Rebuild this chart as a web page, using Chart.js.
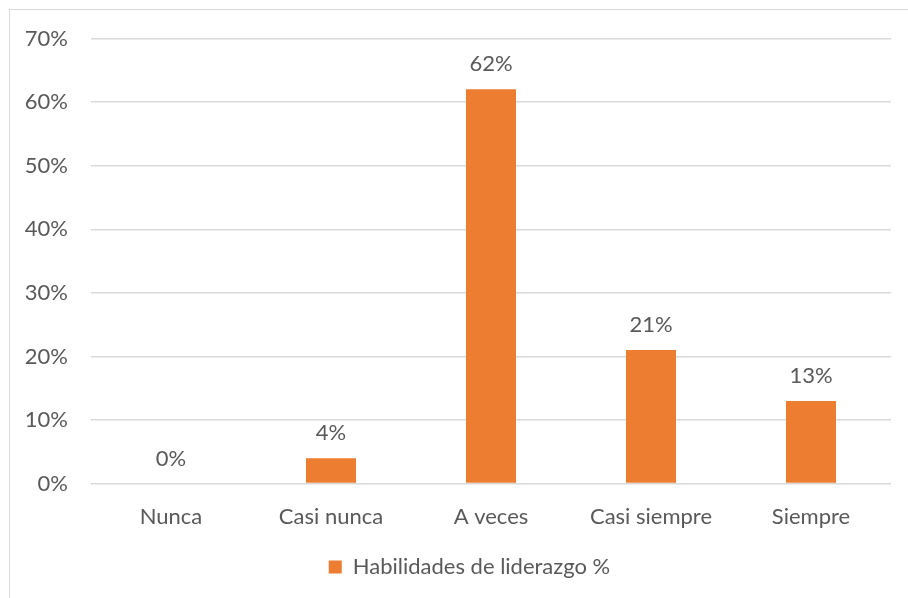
<!DOCTYPE html>
<html>
<head>
<meta charset="utf-8">
<script src="https://cdn.jsdelivr.net/npm/chart.js@4"></script>
<style>
  html, body { margin: 0; padding: 0; background: #fff; overflow: hidden; }
  #marco {
    position: absolute; left: 9px; top: 9px;
    width: 922px; height: 600px;
    border-left: 1.5px solid #d9d9d9; border-top: 1.5px solid #d9d9d9;
  }
  #grafico { display: block; }
</style>
</head>
<body>
<div id="marco"><canvas id="grafico" width="922" height="589"></canvas></div>
<script>
// categorías y porcentajes de la encuesta
const categorias = ['Nunca', 'Casi nunca', 'A veces', 'Casi siempre', 'Siempre'];
const porcentajes = [0, 4, 62, 21, 13];
const serie = 'Habilidades de liderazgo %';
const ticksY = [0, 10, 20, 30, 40, 50, 60, 70];

const fuente = "Lato, 'Open Sans', sans-serif";
const gris = '#595959';
const tam = 22;

// etiquetas de valor encima de cada barra
const etiquetasValor = {
    id: 'etiquetasValor',
    afterDatasetsDraw(chart) {
        const ctx = chart.ctx;
        const meta = chart.getDatasetMeta(0);
        ctx.save();
        ctx.font = tam + 'px ' + fuente;
        ctx.fillStyle = gris;
        ctx.textAlign = 'center';
        ctx.textBaseline = 'middle';
        meta.data.forEach((barra, i) => {
            const p = barra.getProps(['x', 'y'], true);
            ctx.fillText(porcentajes[i] + '%', p.x, p.y - 25);
        });
        ctx.restore();
    }
};

// la leyenda va centrada en todo el marco, no sólo en el área con relleno
const moverLeyenda = {
    id: 'moverLeyenda',
    afterLayout(chart) {
        const dx = 19;
        chart.legend.left += dx;
        chart.legend.right += dx;
    }
};

const ctx = document.getElementById('grafico').getContext('2d');
new Chart(ctx, {
    type: 'bar',
    data: {
        labels: categorias,
        datasets: [{
            label: serie,
            data: porcentajes,
            backgroundColor: '#ED7D31',
            categoryPercentage: 1,
            barPercentage: 0.3125
        }]
    },
    options: {
        responsive: false,
        animation: false,
        layout: { padding: { left: 0, right: 41, top: 28.5, bottom: 11 } },
        plugins: {
            legend: {
                position: 'bottom',
                labels: {
                    color: gris,
                    font: { family: fuente, size: tam },
                    boxWidth: 13,
                    boxHeight: 13,
                    padding: 6
                }
            },
            tooltip: { enabled: false }
        },
        scales: {
            x: {
                grid: { display: false, drawTicks: false },
                border: { display: false },
                ticks: { color: gris, font: { family: fuente, size: tam }, padding: 20 }
            },
            y: {
                min: 0,
                max: 70,
                afterFit(scale) { scale.width = 81; },
                afterBuildTicks(scale) { scale.ticks = ticksY.map(v => ({ value: v })); },
                // marcas invisibles para separar las etiquetas de la rejilla
                grid: { color: '#d9d9d9', lineWidth: 1.5, drawTicks: true, tickLength: 23, tickColor: 'rgba(0,0,0,0)' },
                border: { display: false },
                ticks: {
                    color: gris,
                    font: { family: fuente, size: tam },
                    padding: 0,
                    callback: v => v + '%'
                }
            }
        }
    },
    plugins: [etiquetasValor, moverLeyenda]
});
</script>
</body>
</html>
